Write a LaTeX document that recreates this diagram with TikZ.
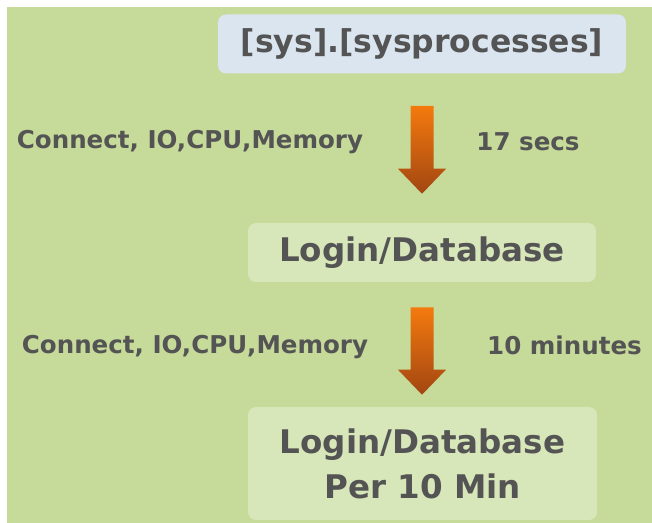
\documentclass[tikz,border=0pt]{standalone}
\usepackage{fontspec}
\setmainfont{DejaVu Sans}
\usetikzlibrary{calc}
\usetikzlibrary{math}

\definecolor{bggreen}{HTML}{C6DA9A}
\definecolor{boxgreen}{HTML}{D8E7B9}
\definecolor{boxblue}{HTML}{DAE5F0}
\definecolor{txtgray}{HTML}{545454}
\definecolor{arrtop}{HTML}{F47A0E}
\definecolor{arrbot}{HTML}{A24612}

\tikzset{
	box/.style = {rounded corners = 6pt, inner sep = 0pt, align = center, text = txtgray,
		font = \bfseries\fontsize{24.4pt}{33.75pt}\selectfont},
	lbl/.style = {inner sep = 0pt, text = txtgray, font = \bfseries\fontsize{18.4pt}{22pt}\selectfont},
	arrowfill/.style = {top color = arrtop, bottom color = arrbot}
}

\begin{document}
\begin{tikzpicture}[x = 0.75pt, y = 0.75pt]

	\tikzmath{\sw = 11.5*0.75;};
	\tikzmath{\hw = 24*0.75;};
	\tikzmath{\hl = 25*0.75;};

	\useasboundingbox (0,0) rectangle (652,-523);
	\fill [white] (0,0) rectangle (652,-523);
	\fill [bggreen] (7,-7) rectangle (652,-523);

	\node [box, fill = boxblue, minimum width = 408*0.75pt, minimum height = 59*0.75pt,
		font = \bfseries\fontsize{23.6pt}{28pt}\selectfont] (sysproc) at (422,-44) {[sys].[sysprocesses]};
	\node [box, fill = boxgreen, minimum width = 348*0.75pt, minimum height = 59*0.75pt] (logindb) at (422,-252.5) {Login/Database};
	\node [box, fill = boxgreen, minimum width = 349*0.75pt, minimum height = 113*0.75pt] (permin) at (422.5,-463.5) {Login/Database\\Per 10 Min};

	\coordinate (a1s) at ($(sysproc.south)+(0,-32)$);
	\coordinate (a1e) at ($(logindb.north)+(0,29)$);
	\coordinate (a2s) at ($(logindb.south)+(0,-25)$);
	\coordinate (a2e) at ($(permin.north)+(0,12)$);

	\shade [arrowfill] let \p1 = (a1s), \p2 = (a1e) in
		(\x1-\sw pt,\y1) -- (\x1+\sw pt,\y1) -- (\x1+\sw pt,\y2+\hl pt) -- (\x1+\hw pt,\y2+\hl pt)
		-- (\x1,\y2) -- (\x1-\hw pt,\y2+\hl pt) -- (\x1-\sw pt,\y2+\hl pt) -- cycle;
	\shade [arrowfill] let \p1 = (a2s), \p2 = (a2e) in
		(\x1-\sw pt,\y1) -- (\x1+\sw pt,\y1) -- (\x1+\sw pt,\y2+\hl pt) -- (\x1+\hw pt,\y2+\hl pt)
		-- (\x1,\y2) -- (\x1-\hw pt,\y2+\hl pt) -- (\x1-\sw pt,\y2+\hl pt) -- cycle;

	\node [lbl] (res1) at (190,-142) {Connect, IO,CPU,Memory};
	\node [lbl] (time1) at (528,-142) {17 secs};
	\node [lbl] (res2) at (195,-347) {Connect, IO,CPU,Memory};
	\node [lbl] (time2) at (564.5,-345) {10 minutes};

\end{tikzpicture}
\end{document}
